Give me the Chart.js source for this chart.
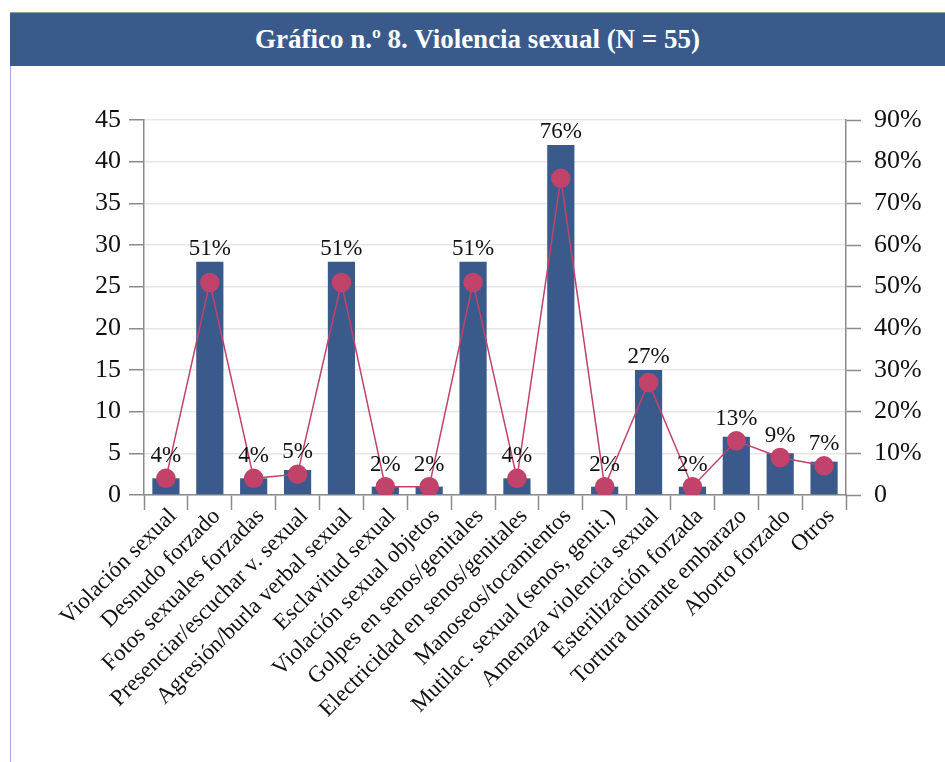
<!DOCTYPE html>
<html><head><meta charset="utf-8">
<script src="https://cdn.jsdelivr.net/npm/chart.js@4"></script>
<style>
html,body{margin:0;padding:0;background:#fff;}
#wrap{position:relative;width:945px;height:762px;overflow:hidden;}
#banner{position:absolute;left:10px;top:12px;width:935px;height:54px;background:#3b5a8c;border-top:1px solid #9a9a9a;color:#fff;font-family:"Liberation Serif",serif;font-weight:bold;font-size:27px;display:flex;align-items:center;justify-content:center;box-sizing:border-box;}
#lborder{position:absolute;left:10px;top:66px;width:1px;height:696px;background:#a3abd6;}
canvas{position:absolute;left:0;top:0;}
</style></head>
<body><div id="wrap">
<div id="banner">Gráfico n.º 8. Violencia sexual (N = 55)</div>
<div id="lborder"></div>
<canvas id="c" width="945" height="762"></canvas>
</div>
<script>
const categories = ["Violación sexual","Desnudo forzado","Fotos sexuales forzadas","Presenciar/escuchar v. sexual","Agresión/burla verbal sexual","Esclavitud sexual","Violación sexual objetos","Golpes en senos/genitales","Electricidad en senos/genitales","Manoseos/tocamientos","Mutilac. sexual (senos, genit.)","Amenaza violencia sexual","Esterilización forzada","Tortura durante embarazo","Aborto forzado","Otros"];
const counts = [2,28,2,3,28,1,1,28,2,42,1,15,1,7,5,4];
const percents = [4,51,4,5,51,2,2,51,4,76,2,27,2,13,9,7];

const FONT = '"Liberation Serif", serif';
const BAR = '#3b5a8c';
const PT = '#c1436a';
const AXIS = '#8a8a8a';

const pctLabels = {
  id: 'pctLabels',
  afterDatasetsDraw(chart) {
    const ctx = chart.ctx;
    const pts = chart.getDatasetMeta(0).data;
    const bars = chart.getDatasetMeta(1).data;
    ctx.save();
    ctx.font = '23px ' + FONT;
    ctx.fillStyle = '#111';
    ctx.textAlign = 'center';
    ctx.textBaseline = 'alphabetic';
    percents.forEach((p, i) => {
      const top = Math.min(bars[i].y, pts[i].y - 9);
      ctx.fillText(p + '%', bars[i].x, top - 7);
    });
    ctx.restore();
  }
};

new Chart(document.getElementById('c'), {
  type: 'bar',
  data: {
    labels: categories,
    datasets: [
      { type: 'line', data: percents, yAxisID: 'y1', borderColor: PT, backgroundColor: PT,
        pointBackgroundColor: PT, pointBorderColor: PT, pointRadius: 9, borderWidth: 1.5, order: 0, tension: 0 },
      { type: 'bar', data: counts, yAxisID: 'y', backgroundColor: BAR,
        barPercentage: 0.62, categoryPercentage: 1, order: 1 }
    ]
  },
  options: {
    responsive: false,
    animation: false,
    layout: { padding: { top: 120, left: 0, right: 0, bottom: 0 } },
    plugins: { legend: { display: false }, tooltip: { enabled: false } },
    scales: {
      x: {
        grid: { drawOnChartArea: false, tickLength: 15, tickColor: AXIS, tickWidth: 1.5, offset: true },
        border: { color: AXIS, width: 1.5 },
        ticks: { minRotation: 45, maxRotation: 45, autoSkip: false, padding: -7, labelOffset: 7, color: '#111', font: { family: FONT, size: 23 } },
        afterFit: s => { s.height = 267; }
      },
      y: {
        position: 'left', min: 0, max: 45,
        ticks: { stepSize: 5, padding: 8, color: '#111', font: { family: FONT, size: 26 } },
        grid: { color: '#e6e6e6', lineWidth: 1.5, tickColor: AXIS, tickLength: 15, tickWidth: 1.5 },
        border: { color: AXIS, width: 1.5 },
        afterFit: s => { s.width = 144; }
      },
      y1: {
        position: 'right', min: 0, max: 90,
        ticks: { stepSize: 10, padding: 13, color: '#111', font: { family: FONT, size: 26 },
          callback: v => v === 0 ? '0' : v + '%' },
        grid: { drawOnChartArea: false, tickColor: AXIS, tickLength: 15, tickWidth: 1.5 },
        border: { color: AXIS, width: 1.5 },
        afterFit: s => { s.width = 99; }
      }
    }
  },
  plugins: [pctLabels]
});
</script>
</body></html>
